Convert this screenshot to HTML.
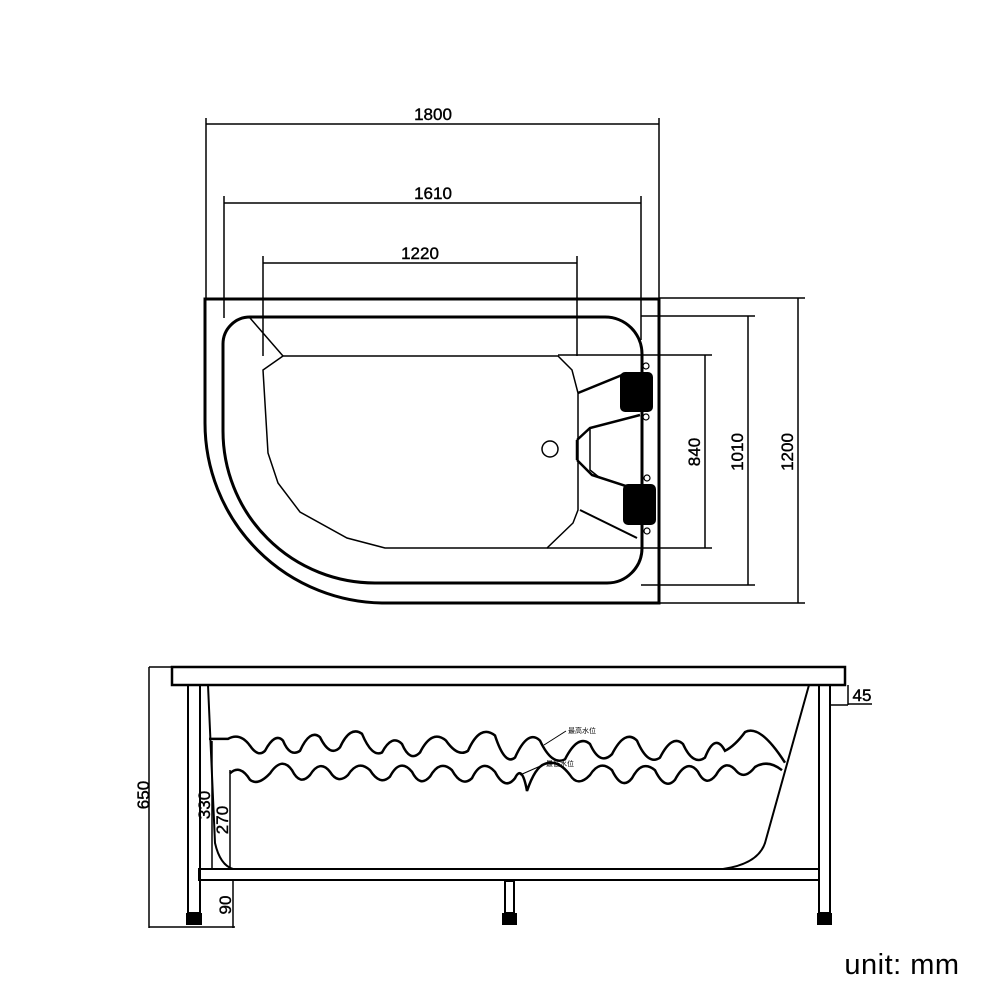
<!DOCTYPE html>
<html><head><meta charset="utf-8"><style>
html,body{margin:0;padding:0;background:#fff;}
svg{display:block;}
text{font-family:"Liberation Sans","Noto Sans CJK SC",sans-serif;}
</style></head><body>
<svg width="1000" height="1000" viewBox="0 0 1000 1000" xmlns="http://www.w3.org/2000/svg">
<g fill="none" stroke="#000" stroke-width="1.5">
<line x1="206" y1="118" x2="206" y2="300"/><line x1="659" y1="118" x2="659" y2="300"/>
<line x1="206" y1="124" x2="659" y2="124"/>
<line x1="224" y1="196" x2="224" y2="318"/><line x1="641" y1="196" x2="641" y2="340"/>
<line x1="224" y1="203" x2="641" y2="203"/>
<line x1="263" y1="256" x2="263" y2="356"/><line x1="577" y1="256" x2="577" y2="356"/>
<line x1="263" y1="263" x2="577" y2="263"/>
<line x1="659" y1="298" x2="805" y2="298"/><line x1="659" y1="603" x2="805" y2="603"/>
<line x1="798" y1="298" x2="798" y2="603"/>
<line x1="641" y1="316" x2="755" y2="316"/><line x1="641" y1="585" x2="755" y2="585"/>
<line x1="748" y1="316" x2="748" y2="585"/>
<line x1="558" y1="355" x2="712" y2="355"/><line x1="547" y1="548" x2="712" y2="548"/>
<line x1="705" y1="355" x2="705" y2="548"/>
</g>
<g fill="#000" font-size="17" text-anchor="middle" stroke="#000" stroke-width="0.4">
<text x="433" y="120">1800</text>
<text x="433" y="199">1610</text>
<text x="420" y="259">1220</text>
<text transform="translate(700 452) rotate(-90)">840</text>
<text transform="translate(743 452) rotate(-90)">1010</text>
<text transform="translate(793 452) rotate(-90)">1200</text>
</g>
<g fill="none" stroke="#000">
<path d="M205 299 L659 299 L659 603 L385 603 A180 180 0 0 1 205 423 Z" stroke-width="3"/>
<path d="M250 317 L605 317 A37 37 0 0 1 642 354 L642 548 A35 35 0 0 1 607 583 L375 583 A152 152 0 0 1 223 431 L223 344 A27 27 0 0 1 250 317 Z" stroke-width="3"/>
<path d="M283 356 L558 356 L572 370 L578 393 L578 510 L573 523 L547 548 L385 548 L347 538 L300 512 L278 483 L268 453 L263 370 Z" stroke-width="1.5"/>
<line x1="283" y1="356" x2="250" y2="318" stroke-width="1.5"/>
<circle cx="550" cy="449" r="8" stroke-width="1.5"/>
<path d="M578 393 L627 373" stroke-width="2.5"/>
<path d="M580 510 L637 538" stroke-width="2"/>
<path d="M577 440 L577 460 M577 440 L590 428 L640 415 M577 460 L592 475 L638 490" stroke-width="2.5"/>
<path d="M590 428 L590 470 L600 478" stroke-width="1.5"/>
</g>
<rect x="620" y="372" width="33" height="40" rx="5" fill="#000"/>
<rect x="623" y="484" width="33" height="41" rx="5" fill="#000"/>
<g fill="#fff" stroke="#000" stroke-width="1.2">
<circle cx="646" cy="366" r="3"/><circle cx="646" cy="417" r="3"/>
<circle cx="647" cy="478" r="3"/><circle cx="647" cy="531" r="3"/>
</g>
<g fill="none" stroke="#000">
<rect x="172" y="667" width="673" height="18" stroke-width="2.5"/>
<line x1="149" y1="667" x2="172" y2="667" stroke-width="1.5"/>
<line x1="149" y1="667" x2="149" y2="928" stroke-width="1.5"/>
<line x1="149" y1="927" x2="235" y2="927" stroke-width="1.5"/>
<rect x="188" y="685" width="12" height="228" stroke-width="2"/>
<rect x="819" y="685" width="11" height="228" stroke-width="2"/>
<rect x="505" y="881" width="9" height="32" stroke-width="2"/>
<rect x="199" y="869" width="620" height="11" stroke-width="2"/>
<path d="M208 685 L215 843 Q220 865 233 869" stroke-width="2"/>
<path d="M809 685 L765 843 Q758 864 723 869" stroke-width="2"/>
<line x1="212" y1="741" x2="212" y2="869" stroke-width="1.5"/>
<line x1="230" y1="770" x2="230" y2="869" stroke-width="1.5"/>
<line x1="233" y1="880" x2="233" y2="928" stroke-width="1.5"/>
<line x1="830" y1="705" x2="848" y2="705" stroke-width="1.5"/>
<line x1="848" y1="685" x2="848" y2="705" stroke-width="1.5"/>
<line x1="848" y1="704" x2="872" y2="704" stroke-width="1.5"/>
<g transform="translate(0 744) scale(1 1.7) translate(0 -744)">
<path vector-effect="non-scaling-stroke" d="M209 741 L228 741 Q240 737 250 745 Q258 752 265 748 Q275 737 283 742 Q290 752 300 748 Q310 735 320 740 Q330 752 340 746 Q350 733 362 738 Q372 752 382 749 Q392 738 402 744 Q410 755 420 749 Q432 735 446 742 Q458 752 468 748 Q480 732 495 739 Q505 757 515 752 Q528 735 540 742 Q552 757 565 753 Q578 738 590 744 Q600 757 612 750 Q625 735 637 742 Q648 757 660 752 Q672 738 683 744 Q693 757 705 752 Q715 737 725 748 Q735 745 745 737 Q760 732 785 755" stroke-width="2.5"/>
</g>
<g transform="translate(0 775) scale(1 1.6) translate(0 -775)">
<path vector-effect="non-scaling-stroke" d="M230 774 Q240 768 250 778 Q258 782 270 774 Q282 763 292 772 Q300 782 310 775 Q320 765 330 773 Q338 781 348 775 Q358 765 370 772 Q380 782 390 776 Q400 764 412 773 Q420 783 430 776 Q440 765 452 772 Q462 783 472 777 Q482 764 495 773 Q505 785 515 777 Q522 768 527 785 Q535 770 545 768 Q558 765 570 775 Q578 783 590 775 Q600 765 612 772 Q622 785 632 777 Q642 765 655 772 Q665 785 675 778 Q687 764 698 773 Q706 783 716 775 Q726 764 737 773 Q745 778 755 770 Q768 765 782 772" stroke-width="2.5"/>
</g>
<line x1="544" y1="745" x2="566" y2="731" stroke-width="1"/>
<line x1="520" y1="775" x2="545" y2="764" stroke-width="1"/>
</g>
<rect x="186" y="913" width="16" height="12" fill="#000"/>
<rect x="502" y="913" width="15" height="12" fill="#000"/>
<rect x="817" y="913" width="15" height="12" fill="#000"/>
<g fill="#000" font-size="17" text-anchor="middle" stroke="#000" stroke-width="0.4">
<text transform="translate(149 795) rotate(-90)">650</text>
<text transform="translate(210 805) rotate(-90)">330</text>
<text transform="translate(228 820) rotate(-90)">270</text>
<text transform="translate(231 905) rotate(-90)">90</text>
<text x="862" y="701">45</text>
</g>
<text x="568" y="733" font-size="7" font-family="Noto Serif CJK SC,serif">最高水位</text>
<text x="546" y="766" font-size="7" font-family="Noto Serif CJK SC,serif">最低水位</text>
<text x="902" y="974" font-size="29" text-anchor="middle" fill="#000" letter-spacing="0.5">unit: mm</text>
</svg>
</body></html>
